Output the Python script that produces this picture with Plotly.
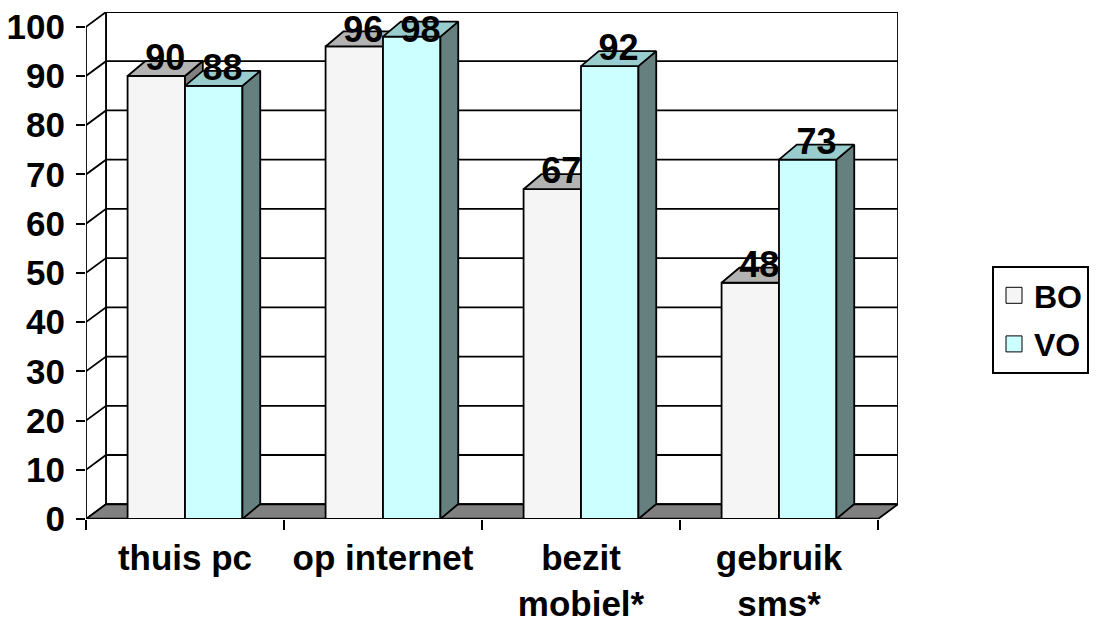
import plotly.graph_objects as go

# ---------------- data ----------------
categories = ["thuis pc", "op internet", "bezit mobiel*", "gebruik sms*"]
tick_labels = ["thuis pc", "op internet", "bezit<br>mobiel*", "gebruik<br>sms*"]
series_names = ["BO", "VO"]
bo_values = [90, 96, 67, 48]
vo_values = [88, 98, 92, 73]
y_ticks = [0, 10, 20, 30, 40, 50, 60, 70, 80, 90, 100]

# ---------------- style ----------------
FONT = "Liberation Sans, Arial, Helvetica, sans-serif"
WX, WY = 0.101, 3.0      # depth of the walls (x units, value units)
BDX, BDY = 0.09, 3.05    # depth of the bars
BW = 0.29                # bar width
LW = 1.8
styles = {
    "BO": dict(front="#F5F5F5", top="#B3B3B3", side="#808080"),
    "VO": dict(front="#CCFFFF", top="#99CCCC", side="#668080"),
}

fig = go.Figure()


def poly(xs, ys, fill, lw=LW):
    fig.add_trace(go.Scatter(
        x=list(xs) + [xs[0]], y=list(ys) + [ys[0]],
        mode="lines", fill="toself", fillcolor=fill,
        line=dict(color="black", width=lw),
        hoverinfo="skip", showlegend=False))


xl, xr = -0.5, len(categories) - 0.5
ytop = y_ticks[-1]

# back wall, left wall
poly([xl + WX, xr + WX, xr + WX, xl + WX], [WY, WY, ytop + WY, ytop + WY], "white")
poly([xl, xl + WX, xl + WX, xl], [0, WY, ytop + WY, ytop], "white")

# gridlines on left and back walls
gx, gy = [], []
for v in y_ticks[1:-1]:
    gx += [xl, xl + WX, xr + WX, None]
    gy += [v, v + WY, v + WY, None]
fig.add_trace(go.Scatter(x=gx, y=gy, mode="lines", line=dict(color="black", width=LW),
                         hoverinfo="skip", showlegend=False))

# floor
poly([xl, xr, xr + WX, xl + WX], [0, 0, WY, WY], "#808080")
fig.add_trace(go.Scatter(x=[xl, xr], y=[0, 0], mode="lines", line=dict(color="black", width=2.6),
                         hoverinfo="skip", showlegend=False))

# bars
series_values = {"BO": bo_values, "VO": vo_values}
for i in range(len(categories)):
    for name in series_names:
        v = series_values[name][i]
        x0 = i - BW if name == "BO" else i
        x1 = x0 + BW
        st = styles[name]
        poly([x0, x1, x1, x0], [0, 0, v, v], st["front"])
        poly([x1, x1 + BDX, x1 + BDX, x1], [0, BDY, v + BDY, v], st["side"])
        poly([x0, x1, x1 + BDX, x0 + BDX], [v, v, v + BDY, v + BDY], st["top"])

# data labels (kept inside the top of the chart)
for name in series_names:
    vals = series_values[name]
    xs = [(i - BW / 2 if name == "BO" else i + BW / 2) + BDX / 2 for i in range(len(categories))]
    ys = [min(v + BDY, ytop - 1.3) for v in vals]
    fig.add_trace(go.Scatter(
        x=xs, y=ys, mode="text", text=[str(v) for v in vals],
        textposition="middle center",
        textfont=dict(family=FONT, size=36, color="black", weight="bold"),
        cliponaxis=False, hoverinfo="skip", showlegend=False))

# legend entries
for k, name in enumerate(series_names):
    fig.add_trace(go.Scatter(
        x=[None], y=[None], mode="markers", name=name, legendgroup=name,
        marker=dict(symbol="square", size=20, color=styles[name]["front"],
                    line=dict(color="black", width=1)),
        showlegend=True))

# The page body has an 8px margin; the figure is sized to fit the window.
fig.update_layout(
    width=1091, height=615, autosize=False,
    margin=dict(l=78, r=201, t=4, b=104, pad=0, autoexpand=False),
    paper_bgcolor="white", plot_bgcolor="white",
    hovermode=False,
    font=dict(family=FONT, color="black"),
    showlegend=True,
    legend=dict(
        x=(992 - 86) / 812, y=(519 - 266) / 507, xanchor="left", yanchor="top",
        bgcolor="white", bordercolor="black", borderwidth=2,
        font=dict(family=FONT, size=32, color="black", weight="bold"),
        tracegroupgap=4, itemsizing="trace",
    ),
    xaxis=dict(
        range=[xl, xr + WX], showgrid=False, zeroline=False, showline=False,
        automargin=False, ticklabeloverflow="allow",
        tickmode="array", tickvals=list(range(len(categories))), ticktext=tick_labels,
        ticks="", ticklabelstandoff=15,
        tickfont=dict(family=FONT, size=35, color="black", weight="bold"),
        minor=dict(tickmode="array", tickvals=[xl + k for k in range(len(categories) + 1)],
                   ticks="outside", ticklen=10, tickwidth=1.8, tickcolor="black"),
        fixedrange=True,
    ),
    yaxis=dict(
        range=[0, ytop + WY], showgrid=False, zeroline=False, showline=False,
        automargin=False, ticklabeloverflow="allow",
        tickmode="array", tickvals=y_ticks, ticktext=[str(t) for t in y_ticks],
        ticks="outside", ticklen=9, tickwidth=1.8, tickcolor="black",
        ticklabelstandoff=4,
        tickfont=dict(family=FONT, size=35, color="black", weight="bold"),
        fixedrange=True,
    ),
)

fig.write_html("out.html")
